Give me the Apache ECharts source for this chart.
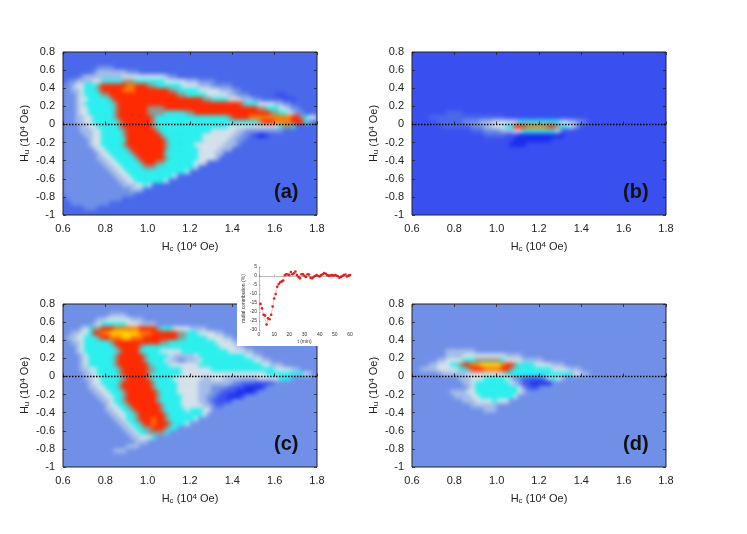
<!DOCTYPE html>
<html>
<head>
<meta charset="utf-8">
<style>
  html, body { margin: 0; background: #fff; }
  #main { width: 747px; height: 534px; }
</style>
<script src="https://cdn.jsdelivr.net/npm/echarts@6/dist/echarts.min.js"></script>
</head>
<body>
<div id="main"></div>
<script>
// cell centres of the FORC maps
const hcCells = [0.61,0.63,0.65,0.67,0.69,0.71,0.73,0.75,0.77,0.79,0.81,0.83,0.85,0.87,0.89,0.91,0.93,0.95,0.97,0.99,1.01,1.03,1.05,1.07,1.09,1.11,1.13,1.15,1.17,1.19,1.21,1.23,1.25,1.27,1.29,1.31,1.33,1.35,1.37,1.39,1.41,1.43,1.45,1.47,1.49,1.51,1.53,1.55,1.57,1.59,1.61,1.63,1.65,1.67,1.69,1.71,1.73,1.75,1.77,1.79];
const huCells = [0.775,0.725,0.675,0.625,0.575,0.525,0.475,0.425,0.375,0.325,0.275,0.225,0.175,0.125,0.075,0.025,-0.025,-0.075,-0.125,-0.175,-0.225,-0.275,-0.325,-0.375,-0.425,-0.475,-0.525,-0.575,-0.625,-0.675,-0.725,-0.775,-0.825,-0.875,-0.925,-0.975];

// levels, one hex digit per cell, top row first
const flatA = '2222222222 2222222222 2222222222 2222222222 2222222222 2222222222';
const mapA = [
  flatA,
  flatA,
  flatA,
  '2222222233 3322222222 2222222222 2222222222 2222222222 2222222222',
  '2222222344 4444433322 2222222222 2222222222 2222222222 2222222222',
  '2222344444 4444555555 5555433222 2222222222 2222222222 2222222222',
  '2334444556 6666777666 6666555554 4433332222 2222222222 2222222222',
  '3345566678 8888899888 7766666655 5544433333 2222222222 2222222222',
  '3344566678 8888999888 8888877666 6655555444 3322222222 2222222222',
  '3334566667 7888888888 8888888776 6666555554 4333222222 1112222222',
  '3334556666 6788888888 8888888888 8887766665 5544433222 2211122222',
  '3334566666 6678888888 8888888888 8888888888 8876665555 4433222222',
  '3334556666 6678888888 7777888888 8888888888 8888887766 6554332222',
  '3334556666 6678888888 7777666667 7888888888 8888888887 7665433222',
  '3334455666 6678888888 8766666666 6666666667 8888999999 9999887655',
  '3334455666 6667888888 8766666666 6666666666 6666667888 9999888632',
  '3333445566 6667888888 8766666666 6666666665 5555555555 5677622222',
  '3333444556 6666788888 8876666666 6666655555 5443333333 3322222222',
  '3333344556 6666788888 8887666666 6665555555 4433210012 2222222222',
  '3333334556 6666688888 8888766666 6665555554 4332222222 2222222222',
  '3333334556 6666788888 8888766666 6555555544 4322222222 2222222222',
  '3333333455 6666678888 8888766666 6655555444 2222222222 2222222222',
  '3333333345 5666667888 8888666666 6655554422 2222222222 2222222222',
  '3333333344 5566666788 8888766666 6655554222 2222222222 2222222222',
  '3333333334 4556666678 8877666666 6555222222 2222222222 2222222222',
  '3333333333 4455666667 7766666666 6522222222 2222222222 2222222222',
  '3333333333 3445566666 6666666665 2222222222 2222222222 2222222222',
  '3333333333 3344556666 6666665222 2222222222 2222222222 2222222222',
  '3333333333 3334455666 6666522222 2222222222 2222222222 2222222222',
  '3333333333 3333444556 5222222222 2222222222 2222222222 2222222222',
  '3333333333 3333334442 2222222222 2222222222 2222222222 2222222222',
  '3333333333 3333333222 2222222222 2222222222 2222222222 2222222222',
  '2333333333 3333222222 2222222222 2222222222 2222222222 2222222222',
  '2233333333 3222222222 2222222222 2222222222 2222222222 2222222222',
  '2222233322 2222222222 2222222222 2222222222 2222222222 2222222222',
  flatA
];
const flatB = '1111111111 1111111111 1111111111 1111111111 1111111111 1111111111';
const mapB = [
  flatB, flatB, flatB, flatB, flatB, flatB, flatB, flatB, flatB, flatB, flatB, flatB, flatB,
  '1111111122 2211111111 1111111111 1111111111 1111111111 1111111111',
  '1111222222 2222222222 2211111111 1111111111 1111111111 1111111111',
  '1111112222 2233334445 5555566666 6666655443 3211111111 1111111111',
  '1111111222 2222333445 5566888999 9988766542 1111111111 1111111111',
  '1111111111 1111222333 3444556666 6666521111 1111111111 1111111111',
  '1111111111 1111111222 2211100000 0000001111 1111111111 1111111111',
  '1111111111 1111111111 1111000000 0001111111 1111111111 1111111111',
  '1111111111 1111111111 1110000111 1111111111 1111111111 1111111111',
  flatB, flatB, flatB, flatB, flatB, flatB, flatB, flatB, flatB, flatB, flatB, flatB, flatB, flatB, flatB
];
const flatC = '3333333333 3333333333 3333333333 3333333333 3333333333 3333333333';
const mapC = [
  flatC,
  flatC,
  '3333333333 3444433333 3333333333 3333333333 3333333333 3333333333',
  '3333333344 5555554443 3333333333 3333333333 3333333333 3333333333',
  '3333333456 6666655544 4433333333 3333333333 3333333333 3333333333',
  '3333456778 8899999988 8876665555 4444333333 3333333333 3333333333',
  '3344556889 9AAAAAAA99 9888888776 6655554433 3333333333 3333333333',
  '3445566678 8999AA9998 8888888776 6666555544 3333333333 3333333333',
  '3344566666 6788888888 8887766666 6666665555 4433333333 3333333333',
  '3334566666 6678888876 6666666666 6666666555 5443333333 3333333333',
  '3334566666 6667888866 6665555566 6666666665 5554433333 3333333333',
  '3333456666 6678888887 6666654444 4566666666 6665544333 3333333333',
  '3333456666 6678888887 6666544334 4456666666 6666655443 3333333333',
  '3333456666 6678888888 7666655555 5566666666 6666666554 4433333333',
  '3333445566 6667888888 7766666655 5555566666 6666666666 5555443333',
  '3333344566 6667888888 7666666655 5555555555 5555555566 6666666543',
  '3333344556 6666788888 7666665555 5554455544 4444445555 5666333333',
  '3333334556 6667888888 8766666555 5544444444 3322211112 3333333333',
  '3333334455 6667888888 8766666555 5544433332 2110000133 3333333333',
  '3333333445 5666788888 8876666555 5544433211 1000013333 3333333333',
  '3333333344 5566788888 8876666655 5544332110 0013333333 3333333333',
  '3333333334 4566788888 8876666655 5544321111 3333333333 3333333333',
  '3333333333 4556678888 8887666655 5554432233 3333333333 3333333333',
  '3333333333 4455667888 8887666665 6665533333 3333333333 3333333333',
  '3333333333 3445566788 8888766666 6665333333 3333333333 3333333333',
  '3333333333 3344566788 8988766666 6533333333 3333333333 3333333333',
  '3333333333 3334456678 8988876665 3333333333 3333333333 3333333333',
  '3333333333 3333445667 7888766333 3333333333 3333333333 3333333333',
  '3333333333 3333344566 7777633333 3333333333 3333333333 3333333333',
  '3333333333 3333334455 5633333333 3333333333 3333333333 3333333333',
  '3333333333 3333333444 3333333333 3333333333 3333333333 3333333333',
  '3333333333 3333344433 3333333333 3333333333 3333333333 3333333333',
  '3333333333 3344433333 3333333333 3333333333 3333333333 3333333333',
  flatC,
  flatC,
  flatC
];
const mapD = [
  flatC, flatC, flatC, flatC, flatC, flatC, flatC, flatC, flatC, flatC,
  '3333333344 4444433333 3333333333 3333333333 3333333333 3333333333',
  '3333333344 4455555555 5544443333 3333333333 3333333333 3333333333',
  '3333334455 5566677777 7655554444 4333333333 3333333333 3333333333',
  '3333445556 678899AAAA A988766665 5554443333 3333333333 3333333333',
  '3344445555 5667888999 9887666666 6665555444 3333333333 3333333333',
  '3333333444 4445555555 5566666666 6666666655 4433333333 3333333333',
  '3333333333 3444555666 6654332222 2356543333 3333333333 3333333333',
  '3333333333 3344566666 6665431100 0003333333 3333333333 3333333333',
  '3333333333 3334566666 6666653211 3333333333 3333333333 3333333333',
  '3333333334 4445566666 6666654333 3333333333 3333333333 3333333333',
  '3333333333 4444556666 6666533333 3333333333 3333333333 3333333333',
  '3333333333 3344455556 5553333333 3333333333 3333333333 3333333333',
  '3333333333 3333444444 3333333333 3333333333 3333333333 3333333333',
  '3333333333 3333333444 3333333333 3333333333 3333333333 3333333333',
  flatC, flatC, flatC, flatC, flatC, flatC, flatC, flatC, flatC, flatC, flatC, flatC
];

const levelColors = ['#1a2cf0','#3a4ff0','#4a68ea','#7090e8','#a4bde8','#d5e2ea','#2cf0ee','#8f9a90','#ff2a00','#ff7a00','#ffd800'];

// inset: radial contribution against time
const insetT = [1,2,3,4,5,6,7,8,9,10,11,12,13,14,15,16,17,18,19,20,21,22,23,24,25,26,27,28,29,30,31,32,33,34,35,36,37,38,39,40,41,42,43,44,45,46,47,48,49,50,51,52,53,54,55,56,57,58,59,60];
const insetV = [-15.5,-18,-21.5,-22,-27,-23.5,-24,-21.5,-17,-12.5,-10,-6,-4.5,-3.5,-3,-2.5,0.5,1,0.8,0.5,2.2,1,1.5,2.5,0.5,-0.5,-1.3,1,1,0,-0.5,1,0.8,-1,-1.3,-0.5,0,0.5,0,-0.3,0.5,1,1.7,1.2,0.5,0.2,0.3,0.5,0.2,0.5,0.3,-0.2,-1,-0.5,0,0.5,0.8,-0.3,0.2,0.5];

const panels = [
  {map: mapA, tag: '(a)', left: 63,  top: 52,  base: levelColors[2]},
  {map: mapB, tag: '(b)', left: 412, top: 52,  base: levelColors[1]},
  {map: mapC, tag: '(c)', left: 63,  top: 304, base: levelColors[3]},
  {map: mapD, tag: '(d)', left: 412, top: 304, base: levelColors[3]}
];
const plotW = 254, plotH = 163;
const fontName = '"Liberation Sans", Arial, sans-serif';
const subSup = {
  sub: {fontSize: 8, verticalAlign: 'bottom', fontFamily: fontName, color: '#222', padding: [4, 0, 0, 0]},
  sup: {fontSize: 8, verticalAlign: 'top', fontFamily: fontName, color: '#222', padding: [0, 0, 4, 0]}
};

function cells(rows) {
  let out = [];
  rows.forEach((row, j) => {
    row.replace(/ /g, '').split('').forEach((c, i) => {
      out.push([i, j, parseInt(c, 16)]);
    });
  });
  return out;
}

let grids = [], xAxes = [], yAxes = [], series = [], graphics = [];

panels.forEach((p, i) => {
  grids.push({left: p.left, top: p.top, width: plotW, height: plotH, show: true, borderColor: '#222', borderWidth: 1, backgroundColor: 'transparent', z: 3, zlevel: 1});

  // hidden band axes for the cells
  let bandX = xAxes.length, bandY = yAxes.length;
  xAxes.push({type: 'category', gridIndex: i, data: hcCells, show: false, zlevel: 1});
  yAxes.push({type: 'category', gridIndex: i, data: huCells, inverse: true, show: false, zlevel: 1});

  // value axes carrying the ticks
  let tickX = xAxes.length, tickY = yAxes.length;
  let common = {type: 'value', gridIndex: i, zlevel: 1, splitLine: {show: false}, axisLine: {show: false},
    axisTick: {inside: true, length: 3, lineStyle: {color: '#222', width: 0.8}}};
  xAxes.push(Object.assign({}, common, {
    position: 'bottom', min: 0.6, max: 1.8, interval: 0.2,
    axisLabel: {fontFamily: fontName, fontSize: 11, color: '#222', margin: 8, formatter: v => v.toFixed(1)},
    name: 'H{sub|c} (10{sup|4} Oe)', nameLocation: 'middle', nameGap: 26,
    nameTextStyle: {fontFamily: fontName, fontSize: 11, color: '#222', rich: subSup}
  }));
  yAxes.push(Object.assign({}, common, {
    position: 'left', min: -1, max: 0.8, interval: 0.2,
    axisLabel: {fontFamily: fontName, fontSize: 11, color: '#222', margin: 8},
    name: 'H{sub|u} (10{sup|4} Oe)', nameLocation: 'middle', nameGap: 32,
    nameTextStyle: {fontFamily: fontName, fontSize: 11, color: '#222', rich: subSup}
  }));
  // mirrored ticks on top and right
  xAxes.push(Object.assign({}, common, {position: 'top', min: 0.6, max: 1.8, interval: 0.2, axisLabel: {show: false}}));
  yAxes.push(Object.assign({}, common, {position: 'right', min: -1, max: 0.8, interval: 0.2, axisLabel: {show: false}}));

  series.push({
    type: 'heatmap', xAxisIndex: bandX, yAxisIndex: bandY, data: cells(p.map),
    progressive: 0, animation: false, silent: true, zlevel: 0
  });
  series.push({
    type: 'line', xAxisIndex: tickX, yAxisIndex: tickY, data: [[0.6, 0], [1.8, 0]],
    symbol: 'none', silent: true, zlevel: 1, z: 4,
    lineStyle: {color: '#000', width: 1.5, type: [1.5, 1.5]}
  });

  // base colour under the cells so the soft edge stays inside the frame
  graphics.push({type: 'rect', zlevel: 0, z: -1, silent: true,
    shape: {x: p.left - 6, y: p.top - 6, width: plotW + 12, height: plotH + 12},
    style: {fill: p.base}});
  graphics.push({type: 'text', zlevel: 1, z: 5, silent: true, left: p.left + 211, top: p.top + 130,
    style: {text: p.tag, fontFamily: fontName, fontWeight: 'bold', fontSize: 20, fill: '#111'}});
});

// inset, drawn over the corner of panel (c)
graphics.push({type: 'rect', zlevel: 1, z: 6, silent: true,
  shape: {x: 237, y: 256, width: 118, height: 90}, style: {fill: '#fff'}});
let insetGrid = grids.length;
grids.push({left: 259, top: 267, width: 91, height: 63, zlevel: 1, z: 7});
let insetAxisLine = {show: true, lineStyle: {color: '#777', width: 0.5}};
let insetTick = {inside: true, length: 1.5, lineStyle: {color: '#777', width: 0.5}};
let insetX = xAxes.length, insetY = yAxes.length;
xAxes.push({type: 'value', gridIndex: insetGrid, min: 0, max: 60, interval: 10, zlevel: 1, z: 7,
  splitLine: {show: false}, axisLine: insetAxisLine, axisTick: insetTick,
  axisLabel: {fontFamily: fontName, fontSize: 5, color: '#333', margin: 2},
  name: 't (min)', nameLocation: 'middle', nameGap: 9,
  nameTextStyle: {fontFamily: fontName, fontSize: 5, color: '#333'}});
yAxes.push({type: 'value', gridIndex: insetGrid, min: -30, max: 5, interval: 5, zlevel: 1, z: 7,
  splitLine: {show: false}, axisLine: insetAxisLine, axisTick: insetTick,
  axisLabel: {fontFamily: fontName, fontSize: 5, color: '#333', margin: 2},
  name: 'radial contribution (%)', nameLocation: 'middle', nameGap: 13,
  nameTextStyle: {fontFamily: fontName, fontSize: 5, color: '#333'}});
series.push({
  type: 'line', xAxisIndex: insetX, yAxisIndex: insetY, data: insetT.map((t, i) => [t, insetV[i]]),
  symbol: 'circle', symbolSize: 2.6, silent: true, zlevel: 1, z: 8,
  itemStyle: {color: '#f01818'}, lineStyle: {color: '#f01818', width: 0.5, type: 'dotted'}
});

let chart = echarts.init(document.getElementById('main'));
chart.setOption({
  animation: false,
  backgroundColor: 'transparent',
  grid: grids,
  xAxis: xAxes,
  yAxis: yAxes,
  visualMap: {
    show: false, type: 'continuous', min: 0, max: 10, dimension: 2,
    seriesIndex: [0, 2, 4, 6],
    inRange: {color: levelColors}
  },
  graphic: graphics,
  series: series
});

// soften the cell layer only, axes and text sit on the layer above
let cellLayer = document.querySelector('#main canvas');
let clip = panels.map(p => `M${p.left} ${p.top}h${plotW}v${plotH}h${-plotW}Z`).join('');
cellLayer.style.filter = 'blur(2.2px)';
let holder = document.createElement('div');
holder.style.cssText = 'position:absolute;left:0;top:0;width:747px;height:534px;clip-path:path("' + clip + '")';
cellLayer.parentNode.insertBefore(holder, cellLayer);
holder.appendChild(cellLayer);
</script>
</body>
</html>
